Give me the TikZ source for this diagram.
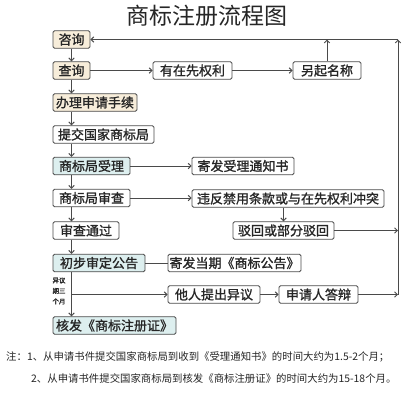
\documentclass[tikz,border=0pt]{standalone}
\usepackage{fontspec}
\setmainfont{Noto Sans CJK SC}
\newfontfamily\boxfont[FakeBold=1.2]{Noto Sans CJK SC}
\usetikzlibrary{arrows.meta}
\definecolor{beige}{HTML}{F7EDDA}
\definecolor{lblue}{HTML}{DDEFEF}
\definecolor{edgec}{HTML}{4A4A4A}
\definecolor{txt}{HTML}{262626}
\begin{document}
\begin{tikzpicture}[x=1pt,y=-1pt,
  box/.style={draw=edgec, line width=0.9pt, rounded corners=1.5pt, minimum height=17.5pt,
    inner sep=0pt, fill=white, text=txt, font=\boxfont\fontsize{13}{13}\selectfont},
  bg/.style={box, fill=beige},
  bl/.style={box, fill=lblue},
  arr/.style={draw=edgec, line width=0.9pt, -{Straight Barb[length=2.8pt,width=5.5pt]}},
  ln/.style={draw=edgec, line width=0.9pt},
  note/.style={anchor=west, inner sep=0pt, text=txt, font=\fontsize{10.4}{10.4}\selectfont}]
\useasboundingbox (0,0) rectangle (412,410);
\fill[white] (0,0) rectangle (412,410);
% title
\node[text=txt, font=\fontsize{23}{23}\selectfont, inner sep=0pt] (title) at (207,16) {商标注册流程图};
% left column
\node[bg, minimum width=37pt] (zx) at (71.5,39.5) {咨询};
\node[bg, minimum width=37pt] (cx) at (71.5,70.5) {查询};
\node[bg, minimum width=84pt] (bl) at (95,102.5) {办理申请手续};
\node[box, minimum width=101pt] (tj) at (103.5,134.5) {提交国家商标局};
\node[bl, minimum width=77pt] (sl) at (91.5,166) {商标局受理};
\node[box, minimum width=77pt] (sc) at (91.5,198) {商标局审查};
\node[box, minimum width=66pt] (tg) at (86,230.5) {审查通过};
\node[bl, minimum width=92pt] (cb) at (99,263) {初步审定公告};
\node[bl, minimum width=123pt] (hf) at (114.5,325.5) {核发《商标注册证》};
% right boxes
\node[box, minimum width=79pt] (yx) at (192.5,70.5) {有在先权利};
\node[box, minimum width=68pt] (lq) at (327,70.5) {另起名称};
\node[box, minimum width=102pt] (jf) at (243,166) {寄发受理通知书};
\node[box, minimum width=192pt] (wf) at (288,198.5) {违反禁用条款或与在先权利冲突};
\node[box, minimum width=101pt] (bh) at (283.5,230.5) {驳回或部分驳回};
\node[box, minimum width=133pt] (gg) at (234.5,263) {寄发当期《商标公告》};
\node[box, minimum width=92pt] (tr) at (214,294.5) {他人提出异议};
\node[box, minimum width=79pt] (sq) at (318.5,294.5) {申请人答辩};
% side label
\node[text=txt, font=\boxfont\fontsize{6.5}{10.5}\selectfont, align=center, inner sep=0pt] (yy) at (59,291) {异议\\期三\\个月};
\coordinate (rc) at (398,39.5);
% left vertical arrows
\draw[arr] (zx.south) -- (cx.north);
\draw[arr] (cx.south) -- (bl.north -| cx);
\draw[arr] (bl.south -| cx) -- (tj.north -| cx);
\draw[arr] (tj.south -| cx) -- (sl.north -| cx);
\draw[arr] (sl.south -| cx) -- (sc.north -| cx);
\draw[arr] (sc.south -| cx) -- (tg.north -| cx);
\draw[arr] (tg.south -| cx) -- (cb.north -| cx);
\draw[arr] (cb.south -| cx) -- (hf.north -| cx);
% horizontal connectors
\draw[arr] (cx.east) -- (yx.west);
\draw[arr] (yx.east) -- (lq.west);
\draw[arr] (sl.east) -- (jf.west);
\draw[arr] (sc.east) -- (sc.east -| wf.west);
\draw[arr] (wf.south -| bh) -- (bh.north);
\draw[ln] (cb.east) -- (gg.west);
\draw[arr] (tr.west -| cx) -- (tr.west);
\draw[arr] (tr.east) -- (sq.west);
% return lines
\draw[arr] (bh.east) -- (bh.east -| rc);
\draw[arr] (sq.east) -- (sq.east -| rc);
\draw[arr] (sq.east -| rc) -- (rc);
\draw[arr] (lq.north) -- (lq.north |- rc);
\draw[arr] (rc) -- (zx.east);
% notes
\node[note] (n1) at (6,357) {注：1、从申请书件提交国家商标局到收到《受理通知书》的时间大约为1.5-2个月；};
\node[note] (n2) at (31,379) {2、从申请书件提交国家商标局到核发《商标注册证》的时间大约为15-18个月。};
\end{tikzpicture}
\end{document}
